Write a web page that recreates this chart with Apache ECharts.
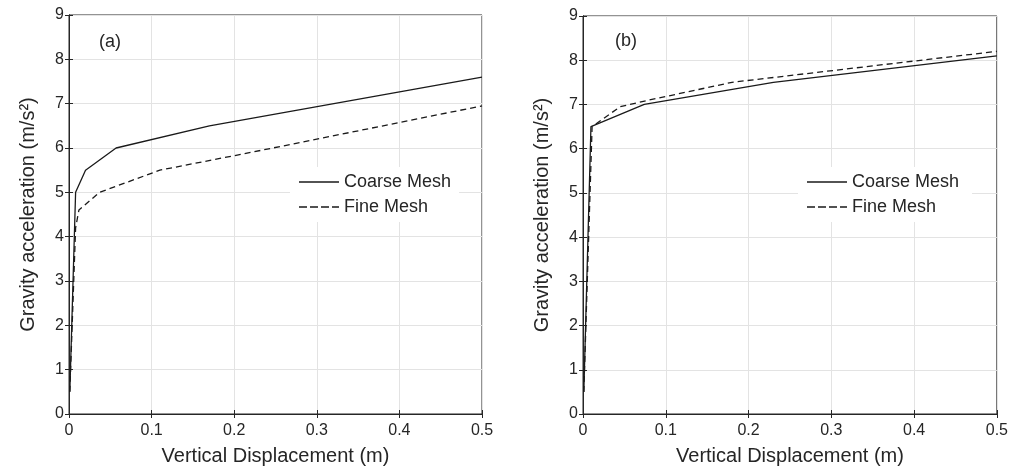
<!DOCTYPE html>
<html>
<head>
<meta charset="utf-8">
<script src="https://cdn.jsdelivr.net/npm/echarts@6/dist/echarts.min.js"></script>
<style>
  html, body { margin: 0; padding: 0; background: #fff; }
  #container { width: 1011px; height: 471px; }
</style>
</head>
<body>
<div id="container"></div>
<script>
// (a) panel
var coarseA = [[0.001, 0.5], [0.008, 5.0], [0.02, 5.5], [0.057, 6.0], [0.17, 6.5], [0.5, 7.6]];
var fineA = [[0.001, 0.5], [0.008, 4.2], [0.012, 4.6], [0.037, 5.0], [0.11, 5.5], [0.22, 5.9], [0.5, 6.95]];
// (b) panel
var coarseB = [[0.001, 0.5], [0.0096, 6.5], [0.074, 7.0], [0.23, 7.5], [0.5, 8.1]];
var fineB = [[0.001, 0.5], [0.011, 6.5], [0.045, 6.95], [0.08, 7.1], [0.18, 7.5], [0.5, 8.2]];

var xTitle = 'Vertical Displacement (m)';
var yTitle = 'Gravity acceleration (m/s\u00b2)';
var panelLabels = ['(a)', '(b)'];

var dom = document.getElementById('container');
var myChart = echarts.init(dom, null, { renderer: 'canvas' });

var font = 'Liberation Sans, Arial, sans-serif';
var ink = '#262626';
var solidIcon = 'path://M0,0h40v1.4h-40z';
var dashIcon = 'path://M0,0h8v1.4h-8z M11,0h8v1.4h-8z M22,0h8v1.4h-8z M33,0h7v1.4h-7z';

function xAxisFor(gi, top) {
    return {
        type: 'value', gridIndex: gi, min: 0, max: 0.5, interval: 0.1,
        position: top ? 'top' : 'bottom',
        name: top ? '' : xTitle, nameLocation: 'middle', nameGap: 32,
        nameTextStyle: { fontFamily: font, fontSize: 20, color: ink },
        axisLine: { show: true, lineStyle: { color: ink } },
        axisTick: { show: true, inside: true, length: 4, lineStyle: { color: ink } },
        axisLabel: { show: !top, fontFamily: font, fontSize: 16, color: ink, margin: 9,
            formatter: function (v) { return String(+v.toFixed(1)); } },
        splitLine: { show: !top, lineStyle: { color: '#e3e3e3' } }
    };
}
function yAxisFor(gi, right) {
    return {
        type: 'value', gridIndex: gi, min: 0, max: 9, interval: 1,
        position: right ? 'right' : 'left',
        name: right ? '' : yTitle, nameLocation: 'middle', nameGap: 31,
        nameTextStyle: { fontFamily: font, fontSize: 20, color: ink },
        axisLine: { show: true, lineStyle: { color: ink } },
        axisTick: { show: true, inside: true, length: 4, lineStyle: { color: ink } },
        axisLabel: { show: !right, fontFamily: font, fontSize: 16, color: ink, margin: 5 },
        splitLine: { show: !right, lineStyle: { color: '#e3e3e3' } }
    };
}
function lineSeries(name, data, gi, dashed) {
    return {
        name: name, type: 'line', xAxisIndex: gi * 2, yAxisIndex: gi * 2,
        data: data, symbol: 'none', animation: false,
        lineStyle: { color: '#1a1a1a', width: 1.3, type: dashed ? [6, 4] : 'solid' },
        itemStyle: { color: '#1a1a1a' }
    };
}
function legendFor(gi, left, top) {
    var sfx = gi ? ' ' : '';
    return {
        data: [{ name: 'Coarse Mesh' + sfx, icon: solidIcon }, { name: 'Fine Mesh' + sfx, icon: dashIcon }],
        orient: 'vertical', left: left, top: top,
        itemWidth: 40, itemHeight: 1.4, itemGap: 7,
        backgroundColor: '#fff', padding: [6, 8, 6, 9],
        itemStyle: { color: '#1a1a1a', borderWidth: 0 },
        textStyle: { fontFamily: font, fontSize: 18, lineHeight: 18, color: ink },
        selectedMode: false
    };
}

var option = {
    backgroundColor: '#fff',
    title: [
        { text: panelLabels[0], left: 99, top: 33, padding: 0, textStyle: { fontFamily: font, fontSize: 18, fontWeight: 'normal', color: ink } },
        { text: panelLabels[1], left: 615, top: 32, padding: 0, textStyle: { fontFamily: font, fontSize: 18, fontWeight: 'normal', color: ink } }
    ],
    grid: [
        { left: 69, top: 15, width: 413, height: 400, show: true, borderColor: ink, borderWidth: 1, containLabel: false },
        { left: 583, top: 16, width: 416, height: 399, show: true, borderColor: ink, borderWidth: 1, containLabel: false }
    ],
    xAxis: [xAxisFor(0, false), xAxisFor(0, true), xAxisFor(1, false), xAxisFor(1, true)],
    yAxis: [yAxisFor(0, false), yAxisFor(0, true), yAxisFor(1, false), yAxisFor(1, true)],
    legend: [legendFor(0, 290, 167), legendFor(1, 798, 167)],
    series: [
        lineSeries('Coarse Mesh', coarseA, 0, false),
        lineSeries('Fine Mesh', fineA, 0, true),
        lineSeries('Coarse Mesh ', coarseB, 1, false),
        lineSeries('Fine Mesh ', fineB, 1, true)
    ]
};

myChart.setOption(option);
window.addEventListener('resize', function () { myChart.resize(); });
</script>
</body>
</html>
